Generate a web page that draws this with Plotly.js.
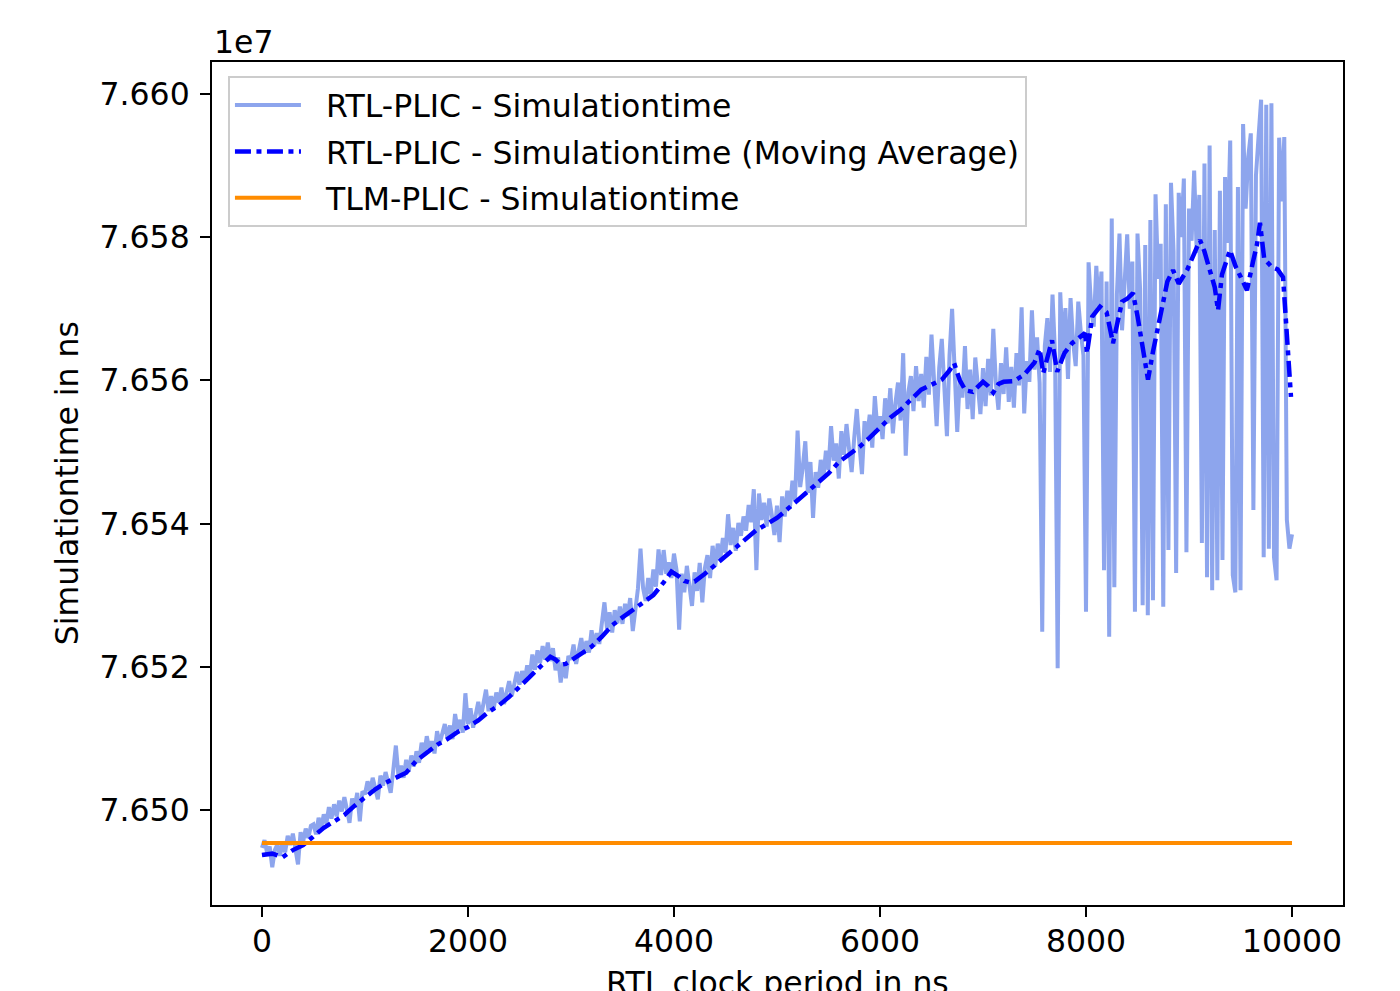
<!DOCTYPE html>
<html>
<head>
<meta charset="utf-8">
<script src="https://cdn.plot.ly/plotly-3.0.1.min.js"></script>
<style>
  html, body { margin: 0; padding: 0; background: #ffffff; }
  #chart { width: 1400px; height: 991px; }
</style>
</head>
<body>
<div id="chart"></div>
<script>
// RTL clock period axis: samples every 25 ns from 0 to 10000 ns
const clockPeriodStart = 0;
const clockPeriodStep = 25;

// RTL-PLIC simulation time (ns), one value per clock period sample
const rtlSimTime = [
  76494700,76495800,76494000,76494900,76492000,76494400,76495200,76493600,76495500,76494100,
  76496400,76495100,76496700,76494800,76492400,76496900,76495600,76497400,76496100,76497800,
  76498000,76496600,76498900,76497500,76499400,76498100,76500400,76498800,76500800,76499100,
  76501300,76499800,76501800,76500100,76498200,76501600,76500400,76502400,76498400,76502600,
  76502200,76504000,76502600,76504500,76503100,76501500,76504800,76503400,76505300,76503900,
  76502400,76505600,76509000,76504800,76506200,76504500,76507000,76505400,76507600,76506100,
  76508200,76506600,76509400,76507800,76510300,76508500,76509600,76507900,76511000,76509300,
  76510600,76512000,76510100,76511800,76509900,76513400,76511200,76512600,76510800,76516300,
  76512000,76514200,76511500,76513600,76515100,76512900,76514600,76516800,76513800,76515900,
  76514200,76516400,76515000,76517100,76514800,76516600,76518000,76515900,76517600,76519300,
  76517500,76519400,76518000,76520200,76518800,76521700,76519600,76522300,76520500,76522900,
  76521000,76523400,76520800,76522600,76519500,76521300,76517800,76520600,76518400,76521500,
  76521000,76523100,76520400,76522500,76524000,76521800,76523600,76522000,76525100,76522900,
  76524700,76523200,76526400,76529000,76525300,76527600,76524800,76527900,76526100,76528400,
  76526000,76528800,76527100,76529600,76525000,76528300,76530900,76536500,76531000,76529200,
  76532400,76530100,76533600,76531200,76536400,76532800,76536300,76533000,76534600,76532400,
  76535800,76533500,76525200,76533000,76530400,76534100,76531000,76528500,76533200,76530600,
  76534500,76529000,76533800,76535600,76532400,76536900,76534000,76537200,76535100,76538000,
  76535900,76541300,76537000,76539400,76536200,76540100,76538300,76541000,76539000,76542600,
  76540200,76544800,76533500,76544200,76540500,76542900,76539600,76543500,76541200,76538400,
  76542500,76537400,76543800,76541000,76544600,76542100,76546000,76543200,76553000,76545100,
  76547800,76551500,76544300,76548600,76540800,76547200,76545000,76548900,76546300,76550200,
  76547500,76553600,76548800,76551200,76546300,76552900,76549600,76553900,76550400,76547200,
  76552000,76556000,76551100,76546900,76554300,76552000,76555200,76550600,76557800,76553100,
  76555000,76551800,76557500,76554000,76558900,76552600,76556800,76559700,76554400,76563800,
  76549500,76558300,76560600,76555700,76562000,76557100,76560900,76556200,76563300,76558000,
  76566400,76558500,76553600,76561800,76565800,76559000,76552200,76563500,76570000,76561300,
  76552800,76560400,76557600,76564800,76556000,76561500,76554600,76563200,76558400,76555300,
  76561700,76556400,76563000,76557900,76567200,76559600,76555900,76562400,76558100,76564600,
  76557000,76561900,76556200,76563800,76559300,76570200,76555400,76562700,76559800,76569800,
  76561500,76566000,76559600,76524900,76564800,76568700,76561200,76572000,76563400,76519800,
  76572300,76564000,76570100,76560200,76571500,76565300,76562000,76571000,76566700,76563500,
  76527700,76576500,76570200,76567500,76576000,76569800,76575200,76533500,76573800,76524200,
  76582600,76531100,76572000,76580500,76567000,76574500,76580400,76570000,76576600,76527700,
  76580500,76572800,76528600,76578900,76527200,76582400,76529300,76586000,76574200,76579100,
  76528400,76584600,76536300,76587600,76578000,76533100,76586200,76580000,76588200,76536000,
  76584000,76579500,76589300,76577800,76585900,76537300,76590300,76532500,76592800,76530700,
  76581000,76532100,76586500,76534900,76588400,76579200,76593500,76532800,76530400,76587000,
  76530700,76595800,76584000,76591200,76594500,76541900,76588600,76594000,76599200,76535300,
  76598500,76536500,76598700,76535300,76532100,76593900,76585000,76594000,76540500,76536500,
  76538500
];

// Moving average of the RTL-PLIC simulation time
const maClockPeriod = [
  0,100,200,300,400,500,600,700,800,900,1000,1100,1200,1300,1400,1500,1600,1700,1800,1900,
  2000,2100,2200,2300,2400,2500,2600,2700,2800,2850,2900,2950,3000,3100,3200,3300,3400,3500,
  3600,3700,3800,3900,3975,4050,4100,4150,4200,4300,4400,4500,4600,4700,4800,4900,5000,5100,
  5200,5300,5400,5500,5600,5700,5800,5900,6000,6100,6200,6300,6400,6500,6600,6675,6720,6775,
  6830,6900,6950,7000,7050,7100,7150,7200,7300,7400,7500,7550,7585,7630,7670,7720,7790,7865,
  7990,8010,8060,8136,8200,8262,8300,8350,8400,8456,8500,8550,8602,8650,8700,8738,8790,8845,
  8900,8981,9050,9107,9150,9200,9250,9282,9320,9398,9450,9500,9563,9620,9660,9689,9730,9806,
  9860,9913,9950,9990
];
const maSimTime = [
  76493700,76493900,76493400,76494400,76495100,76496300,76497500,76498400,76499300,76500600,
  76501800,76502900,76503800,76504500,76505200,76506900,76508100,76509100,76509900,76510900,
  76511600,76512500,76513700,76514600,76515800,76517300,76518600,76520000,76521400,76521000,
  76520300,76520400,76520900,76521800,76522800,76524200,76525800,76526900,76527900,76528900,
  76530000,76531800,76533300,76532600,76532000,76531800,76531900,76533000,76534200,76535400,
  76536600,76537900,76539100,76539900,76540800,76542000,76543300,76544600,76545800,76547000,
  76548600,76549600,76550700,76552000,76553400,76554800,76555900,76557400,76558700,76559400,
  76560100,76561400,76562400,76560000,76558600,76558400,76559200,76559800,76559200,76558300,
  76559500,76559800,76559900,76560800,76562500,76564400,76561000,76563500,76565600,76561200,
  76563800,76565200,76566600,76563800,76568900,76570300,76569500,76565200,76568000,76571000,
  76571400,76572200,76569000,76564500,76560100,76564000,76567500,76570300,76573800,76575400,
  76573500,76575400,76577500,76579600,76578000,76575200,76573000,76569800,76574800,76578200,
  76576000,76574500,76572600,76576500,76579000,76582000,76577000,76575800,76575500,76574400,
  76566500,76557700
];

// TLM-PLIC simulation time (constant)
const tlmClockPeriod = [0, 10000];
const tlmSimTime = [76495400, 76495400];

// Tick labels
const xTickVals = [0, 2000, 4000, 6000, 8000, 10000];
const xTickText = ['0', '2000', '4000', '6000', '8000', '10000'];
const yTickVals = [76500000, 76520000, 76540000, 76560000, 76580000, 76600000];
const yTickText = ['7.650', '7.652', '7.654', '7.656', '7.658', '7.660'];

const seriesNames = [
  'RTL-PLIC - Simulationtime',
  'RTL-PLIC - Simulationtime (Moving Average)',
  'TLM-PLIC - Simulationtime'
];

const clockPeriods = rtlSimTime.map((_, i) => clockPeriodStart + i * clockPeriodStep);

const FONT = 'DejaVu Sans, Liberation Sans, sans-serif';
const FS = 31.5;
const PAD = '\u00a0\u00a0';

const traces = [
  {
    x: clockPeriods, y: rtlSimTime, type: 'scatter', mode: 'lines',
    name: PAD + seriesNames[0], legendgroup: 'a',
    line: { color: 'rgba(65,105,225,0.6)', width: 4 }
  },
  {
    x: maClockPeriod, y: maSimTime, type: 'scatter', mode: 'lines',
    name: PAD + seriesNames[1], legendgroup: 'b',
    line: { color: '#0000ff', width: 4.5, dash: '16px,5.5px,5px,5.5px' }
  },
  {
    x: tlmClockPeriod, y: tlmSimTime, type: 'scatter', mode: 'lines',
    name: PAD + seriesNames[2], legendgroup: 'c',
    line: { color: '#ff8c00', width: 4 }
  }
];

const axisCommon = {
  showgrid: false, zeroline: false, showline: true, mirror: true,
  linecolor: 'black', linewidth: 2, ticks: 'outside', ticklen: 10, tickwidth: 2,
  tickcolor: 'black', tickfont: { family: FONT, size: FS, color: 'black' }
};

const layout = {
  width: 1400, height: 991,
  margin: { l: 212, r: 57, t: 62, b: 86, pad: 0 },
  paper_bgcolor: 'white', plot_bgcolor: 'white',
  font: { family: FONT, size: FS, color: 'black' },
  showlegend: true,
  legend: {
    x: 0.0141, y: 0.9834, xanchor: 'left', yanchor: 'top',
    bgcolor: 'rgba(255,255,255,0.8)', bordercolor: '#cccccc', borderwidth: 2,
    font: { family: FONT, size: FS, color: 'black' },
    traceorder: 'grouped', tracegroupgap: 2.5, itemwidth: 66
  },
  xaxis: Object.assign({}, axisCommon, {
    range: [-485, 10495], tickvals: xTickVals, ticktext: xTickText, ticklabelstandoff: -3
  }),
  yaxis: Object.assign({}, axisCommon, {
    range: [76486730, 76604470], tickvals: yTickVals, ticktext: yTickText, ticklabelstandoff: 4
  }),
  annotations: [
    { text: 'RTL clock period in ns', xref: 'paper', yref: 'paper', x: 0.5, y: -0.0688,
      xanchor: 'center', yanchor: 'top', showarrow: false, font: { family: FONT, size: FS, color: 'black' } },
    { text: 'Simulationtime in ns', xref: 'paper', yref: 'paper', x: -0.1285, y: 0.5,
      xanchor: 'center', yanchor: 'middle', textangle: -90, showarrow: false,
      font: { family: FONT, size: FS, color: 'black' } },
    { text: '1e7', xref: 'paper', yref: 'paper', x: 0, y: 1, xanchor: 'left', yanchor: 'bottom',
      showarrow: false, font: { family: FONT, size: FS, color: 'black' } }
  ]
};

Plotly.newPlot('chart', traces, layout, { displayModeBar: false, staticPlot: true });
</script>
</body>
</html>
